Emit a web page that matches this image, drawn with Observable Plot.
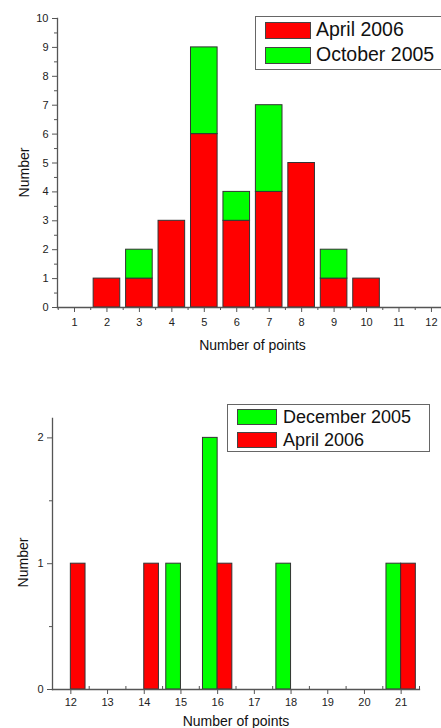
<!DOCTYPE html>
<html><head><meta charset="utf-8">
<script src="https://cdn.jsdelivr.net/npm/d3@7"></script>
<script src="https://cdn.jsdelivr.net/npm/@observablehq/plot@0.6"></script>
<style>
body{margin:0;background:#fff;font-family:"Liberation Sans",Arial,sans-serif;}
#wrap{position:relative;width:441px;height:728px;overflow:hidden;background:#fff;}
.chart{position:absolute;left:0;}
.legend{position:absolute;border:1.5px solid #666;background:#fff;box-sizing:border-box;}
.sw{position:absolute;box-sizing:border-box;border:1px solid #444;}
.lt{position:absolute;color:#111;white-space:nowrap;line-height:1;}
</style></head><body><div id="wrap"></div>
<script>
// ---- Top chart data ----
const topPoints = [2, 3, 4, 5, 6, 7, 8, 9, 10];
const topApril2006 = [1, 1, 3, 6, 3, 4, 5, 1, 1];
const topOctober2005 = [0, 1, 0, 3, 1, 3, 0, 1, 0];
const topXTicks = [1, 2, 3, 4, 5, 6, 7, 8, 9, 10, 11, 12];
const topYTicks = [0, 1, 2, 3, 4, 5, 6, 7, 8, 9, 10];
const topSeries = ["April 2006", "October 2005"];
const topColors = ["#ff0000", "#00ff00"];

// ---- Bottom chart data ----
const botDecPoints = [15, 16, 18, 21];
const botDecember2005 = [1, 2, 1, 1];
const botAprPoints = [12, 14, 16, 21];
const botApril2006 = [1, 1, 1, 1];
const botXTicks = [12, 13, 14, 15, 16, 17, 18, 19, 20, 21];
const botYTicks = [0, 1, 2];
const botSeries = ["December 2005", "April 2006"];
const botColors = ["#00ff00", "#ff0000"];

const xLabel = "Number of points";
const yLabel = "Number";
const FONT = '"Liberation Sans", Arial, sans-serif';
const AX = "#555";

const wrap = document.getElementById("wrap");

// ---------- Top chart ----------
const topData = [];
topPoints.forEach((x, i) => {
  if (topApril2006[i] > 0) topData.push({x, n: topApril2006[i], s: topSeries[0]});
  if (topOctober2005[i] > 0) topData.push({x, n: topOctober2005[i], s: topSeries[1]});
});
const topXMinor = topXTicks.map(t => t - 0.5);
const topYMinor = topYTicks.slice(1).map(t => t - 0.5);

const topChart = Plot.plot({
  width: 441, height: 360,
  marginLeft: 57, marginRight: 0, marginTop: 18, marginBottom: 53,
  style: {fontFamily: FONT, fontSize: "11px", color: "#222", background: "transparent", overflow: "visible"},
  x: {domain: [0.476, 12.31], axis: null, label: null},
  y: {domain: [0, 10], axis: null, label: null},
  color: {domain: topSeries, range: topColors},
  marks: [
    Plot.rectY(topData, Plot.stackY({x1: d => d.x - 0.41, x2: d => d.x + 0.41, y: "n", fill: "s", stroke: "#333", strokeWidth: 1, order: null})),
    Plot.axisX({ticks: topXTicks, label: null, tickSize: 5, tickPadding: 6, stroke: AX, fill: "#222", fontSize: 11, tickFormat: d3.format("d")}),
    Plot.axisX({ticks: topXMinor, label: null, tickSize: 3, text: null, stroke: AX}),
    Plot.axisY({ticks: topYTicks, label: null, tickSize: 5, tickPadding: 4, stroke: AX, fill: "#222", fontSize: 11, tickFormat: d3.format("d")}),
    Plot.axisY({ticks: topYMinor, label: null, tickSize: 3, text: null, stroke: AX}),
    Plot.frame({anchor: "left", stroke: AX, strokeWidth: 1.3}),
    Plot.frame({anchor: "bottom", stroke: AX, strokeWidth: 1.3}),
    Plot.text([xLabel], {frameAnchor: "bottom", textAnchor: "middle", lineAnchor: "middle", dy: 38, dx: 3, fontSize: 14, fill: "#111"}),
    Plot.text([yLabel], {frameAnchor: "left", textAnchor: "middle", lineAnchor: "middle", rotate: -90, dx: -33, dy: 9.5, fontSize: 14, fill: "#111"})
  ]
});
topChart.classList.add("chart");
topChart.style.top = "0px";
wrap.appendChild(topChart);

// ---------- Bottom chart ----------
const botData = [];
botDecPoints.forEach((x, i) => botData.push({x, n: botDecember2005[i], s: botSeries[0]}));
botAprPoints.forEach((x, i) => botData.push({x, n: botApril2006[i], s: botSeries[1]}));
const botXMinor = botXTicks.map(t => t - 0.5).concat([botXTicks[botXTicks.length - 1] + 0.5]);
const botYMinor = botYTicks.slice(1).map(t => t - 0.5);

const botChart = Plot.plot({
  width: 441, height: 368,
  marginLeft: 52, marginRight: 22, marginTop: 58, marginBottom: 39,
  style: {fontFamily: FONT, fontSize: "11px", color: "#222", background: "transparent", overflow: "visible"},
  x: {domain: [11.5, 21.5], axis: null, label: null},
  y: {domain: [0, 2.154], axis: null, label: null},
  color: {domain: botSeries, range: botColors},
  marks: [
    Plot.rectY(botData, {
      x1: d => d.s === botSeries[0] ? d.x - 0.4 : d.x,
      x2: d => d.s === botSeries[0] ? d.x : d.x + 0.4,
      y1: () => 0, y2: "n", fill: "s", stroke: "#333", strokeWidth: 1
    }),
    Plot.axisX({ticks: botXTicks, label: null, tickSize: 5, tickPadding: 4, stroke: AX, fill: "#222", fontSize: 11, tickFormat: d3.format("d")}),
    Plot.axisX({ticks: botXMinor, label: null, tickSize: -3, text: null, stroke: AX}),
    Plot.axisY({ticks: botYTicks, label: null, tickSize: 5, tickPadding: 4, stroke: AX, fill: "#222", fontSize: 11, tickFormat: d3.format("d")}),
    Plot.axisY({ticks: botYMinor, label: null, tickSize: 3, text: null, stroke: AX}),
    Plot.frame({anchor: "left", stroke: AX, strokeWidth: 1.3}),
    Plot.frame({anchor: "bottom", stroke: AX, strokeWidth: 1.3}),
    Plot.text([xLabel], {frameAnchor: "bottom", textAnchor: "middle", lineAnchor: "middle", dy: 32, dx: 0, fontSize: 14, fill: "#111"}),
    Plot.text([yLabel], {frameAnchor: "left", textAnchor: "middle", lineAnchor: "middle", rotate: -90, dx: -29, dy: 8.5, fontSize: 14, fill: "#111"})
  ]
});
botChart.classList.add("chart");
botChart.style.top = "360px";
wrap.appendChild(botChart);

// ---------- Legends (HTML overlays) ----------
function legend(names, colors, box, sw, text) {
  const div = document.createElement("div");
  div.className = "legend";
  Object.assign(div.style, {left: box.left + "px", top: box.top + "px", width: box.width + "px", height: box.height + "px"});
  names.forEach((name, i) => {
    const s = document.createElement("div");
    s.className = "sw";
    Object.assign(s.style, {left: sw.left + "px", top: (sw.top + i * sw.step) + "px", width: sw.width + "px", height: sw.height + "px", background: colors[i]});
    div.appendChild(s);
    const t = document.createElement("div");
    t.className = "lt";
    t.textContent = name;
    Object.assign(t.style, {left: text.left + "px", top: (text.top + i * sw.step) + "px", fontSize: text.size + "px"});
    div.appendChild(t);
  });
  wrap.appendChild(div);
}
legend(topSeries, topColors,
  {left: 255, top: 16, width: 188, height: 54},
  {left: 9, top: 5, width: 46, height: 17, step: 24.5},
  {left: 60, top: 3, size: 19.5});
legend(botSeries, botColors,
  {left: 227, top: 404, width: 203, height: 48},
  {left: 9, top: 4, width: 40, height: 16, step: 22.5},
  {left: 55, top: 3, size: 18});
</script></body></html>
